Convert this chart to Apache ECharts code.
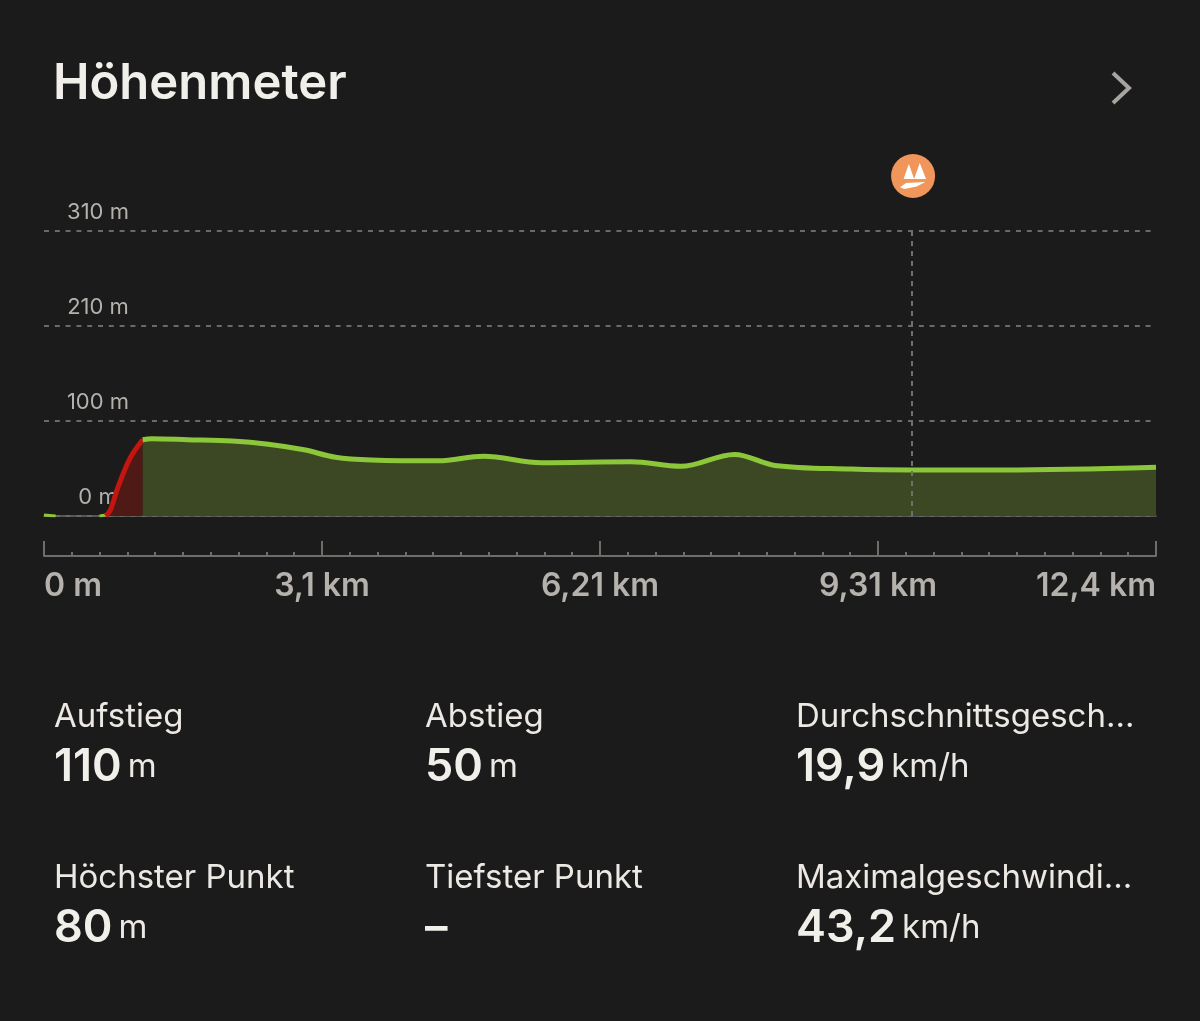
<!DOCTYPE html>
<html><head><meta charset="utf-8">
<style>html,body{margin:0;padding:0;background:#1b1b1b}#c{width:1200px;height:1021px}</style>
<script src="https://cdn.jsdelivr.net/npm/echarts@6/dist/echarts.min.js"></script>
</head><body><div id="c"></div>
<script>
const title = "Höhenmeter";
const xTickLabels = ["0 m","3,1 km","6,21 km","9,31 km","12,4 km"];
const yTickLabels = ["0 m","100 m","210 m","310 m"];
const startTail = [[0,1],[0.13,0]];
const preClimb = [[0.62,0],[0.69,1]];
const climb = [[0.69,0],[0.74,6.5],[0.825,31.5],[0.96,63],[1.1,83]];
const profile = [[1.1,83],[1.2,84],[1.6,83],[2.1,81.5],[2.5,78],[2.9,72],[3.25,64],[3.65,61],[4.4,60],[4.9,65],[5.55,58],[6.55,59],[7.1,54],[7.7,67],[8.15,55],[9,51],[9.68,50],[10.7,50],[12.4,53]];
const peakKm = [9.68];
const stats = [
  ["Aufstieg","110","m"],["Abstieg","50","m"],["Durchschnittsgesch…","19,9","km/h"],
  ["Höchster Punkt","80","m"],["Tiefster Punkt","–",""],["Maximalgeschwindi…","43,2","km/h"]
];
const statColumns = [54,425,796];
const statRows = [717,878];
const FONT = 'Inter';
const chart = echarts.init(document.getElementById('c'));
const graphic = [
  {type:'text',left:53,top:60,style:{text:title,fill:'#f1efea',font:'600 49px '+FONT}},
  {type:'polyline',shape:{points:[[1113,73],[1129,88],[1113,103]]},style:{stroke:'#a8a5a0',lineWidth:4,fill:null}}
];
stats.forEach((s,i)=>{
  const x=statColumns[i%3], y=statRows[Math.floor(i/3)];
  graphic.push({type:'text',x,y,style:{text:s[0],fill:'#ece9e4',font:'400 33px '+FONT,textVerticalAlign:'middle'}});
  graphic.push({type:'text',x,y:y+50,style:{rich:{v:{fill:'#f1efea',font:'600 45px '+FONT},u:{fill:'#ece9e4',font:'400 33px '+FONT,padding:[0,0,0,6]}},text:'{v|'+s[1]+'}{u|'+s[2]+'}',textVerticalAlign:'middle'}});
});
const iconPath='M128 118 L143 75 L158 118 Z M158 118 L174 72 L192 118 Z M118 142 L135 130 L190 127 L165 140 L130 147 Z';
const line=(data,color,area,extra)=>Object.assign({type:'line',data,smooth:0.35,symbol:'none',xAxisIndex:0,yAxisIndex:0,
  lineStyle:{color,width:5},areaStyle:area?{color:area,opacity:1}:undefined},extra||{});
chart.setOption({
  backgroundColor:'#1b1b1b',animation:false,graphic,
  grid:[{left:44,top:231,width:1112,height:285},{left:44,top:541,width:1112,height:15}],
  xAxis:[
    {gridIndex:0,type:'value',min:0,max:12.4,interval:3.1,axisLabel:{show:false},axisTick:{show:false},splitLine:{show:false},axisLine:{show:true,lineStyle:{color:'#6b6b66',width:1.5}}},
    {gridIndex:1,type:'value',min:0,max:12.4,interval:3.1,splitLine:{show:false},
      axisLine:{show:true,lineStyle:{color:'#6e6d69',width:2}},
      axisTick:{show:true,inside:true,length:15,lineStyle:{color:'#6e6d69',width:2}},
      minorTick:{show:true,splitNumber:10,length:4,lineStyle:{color:'#6e6d69',width:2}},
      minorSplitLine:{show:false},
      axisLabel:{margin:14,color:'#b5b2ad',fontFamily:FONT,fontSize:32,fontWeight:600,alignMinLabel:'left',alignMaxLabel:'right',
        formatter:v=>xTickLabels[Math.round(v/3.1)]}}
  ],
  yAxis:[
    {gridIndex:0,type:'value',min:0,max:310,interval:310/3,axisLine:{show:false},axisTick:{show:false},
      splitLine:{show:true,lineStyle:{color:'#6a6a66',type:[5,5.8],width:2}},
      axisLabel:{inside:true,margin:54,align:'center',verticalAlign:'bottom',padding:[0,0,8,0],color:'#b5b2ad',fontFamily:FONT,fontSize:22,
        formatter:(v)=>yTickLabels[Math.round(v/(310/3))]}},
    {gridIndex:1,type:'value',show:false,min:0,max:1}
  ],
  series:[
    line(startTail,'#8cc63a',null,{lineStyle:{color:'#8cc63a',width:3}}),
    line(preClimb,'#8cc63a',null,{lineStyle:{color:'#8cc63a',width:3}}),
    line(climb,'#c4160f','#4f1a16',{z:3}),
    line(profile,'#8cc63a','#3c4823',{z:3,
      markLine:{silent:true,symbol:'none',label:{show:false},lineStyle:{color:'#6f6f6b',type:[5,5],width:2},
        data:[[{coord:[peakKm[0],0]},{coord:[peakKm[0],310]}]]},
      markPoint:{silent:true,label:{show:false},data:[
        {coord:[peakKm[0],310],symbol:'circle',symbolSize:44,symbolOffset:[1,-55],itemStyle:{color:'#f0965a'}},
        {coord:[peakKm[0],310],symbol:'path://'+iconPath,symbolSize:[26,26],symbolOffset:[1,-55],itemStyle:{color:'#fff'}}
      ]}})
  ]
});
</script></body></html>
